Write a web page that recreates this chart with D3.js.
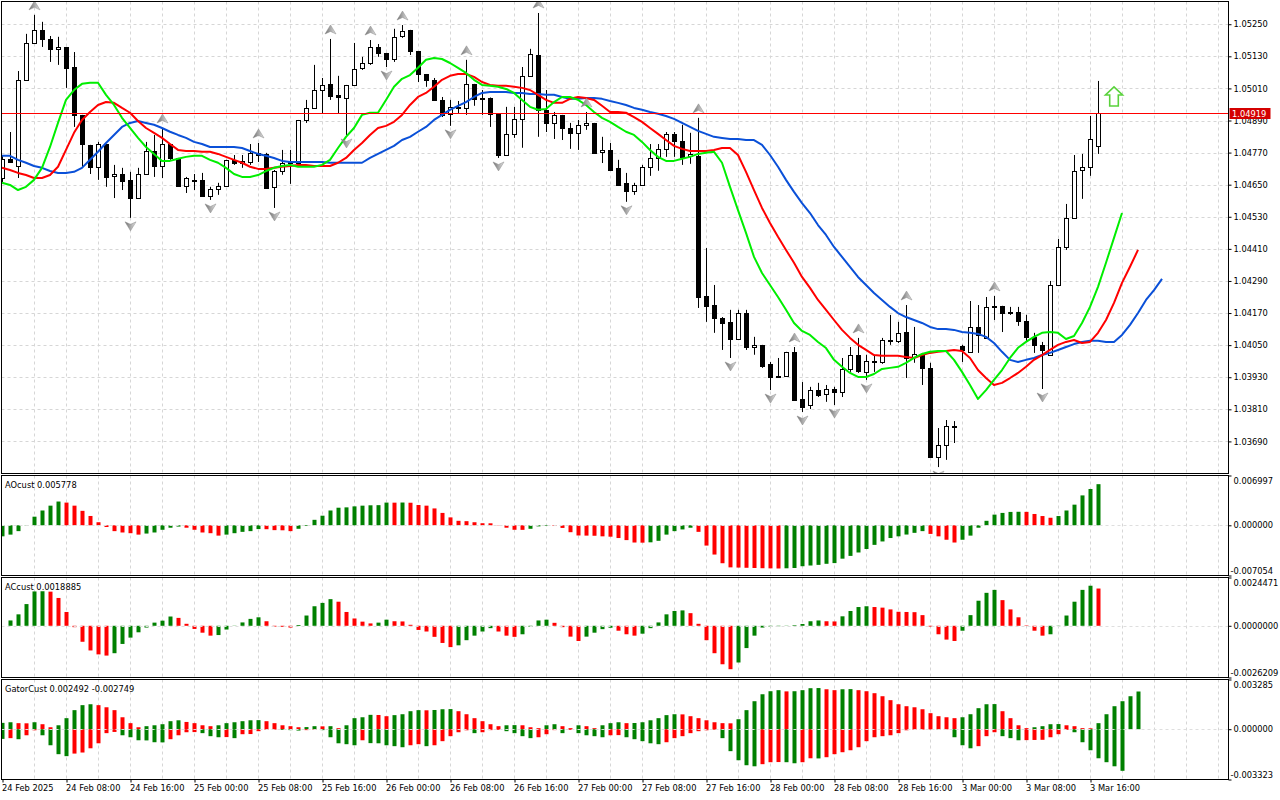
<!DOCTYPE html>
<html>
<head>
<meta charset="utf-8">
<script src="https://cdn.jsdelivr.net/npm/d3@7"></script>
<style>
  body { margin: 0; background: #fff; }
  svg text { font-family: "DejaVu Sans", Verdana, sans-serif; font-size: 8.3px; fill: #000; }
</style>
</head>
<body>
<svg id="chart" width="1280" height="800"></svg>
<script>
// time axis labels, one every 8 hourly bars
const timeLabels = ['24 Feb 2025', '24 Feb 08:00', '24 Feb 16:00', '25 Feb 00:00', '25 Feb 08:00', '25 Feb 16:00',
  '26 Feb 00:00', '26 Feb 08:00', '26 Feb 16:00', '27 Feb 00:00', '27 Feb 08:00', '27 Feb 16:00',
  '28 Feb 00:00', '28 Feb 08:00', '28 Feb 16:00', '3 Mar 00:00', '3 Mar 08:00', '3 Mar 16:00'];

const priceTicks = [1.05250, 1.05130, 1.05010, 1.04890, 1.04770, 1.04650, 1.04530, 1.04410,
  1.04290, 1.04170, 1.04050, 1.03930, 1.03810, 1.03690];
const priceMin = 1.03570;
const priceMax = 1.05335;
const lastPrice = 1.04919;

const opens = [
  1.04675, 1.04746, 1.04720, 1.05042, 1.05180, 1.05229, 1.05195, 1.05158, 1.05165, 1.05090,
  1.04911, 1.04799, 1.04717, 1.04802, 1.04683, 1.04690, 1.04668, 1.04600, 1.04690, 1.04776,
  1.04720, 1.04802, 1.04750, 1.04645, 1.04668, 1.04668, 1.04608, 1.04634, 1.04645, 1.04743,
  1.04731, 1.04735, 1.04769, 1.04765, 1.04642, 1.04702, 1.04731, 1.04731, 1.04892, 1.04937,
  1.05004, 1.05027, 1.04986, 1.04976, 1.05023, 1.05087, 1.05105, 1.05165, 1.05143, 1.05120,
  1.05206, 1.05229, 1.05150, 1.05064, 1.05042, 1.04967, 1.04915, 1.04941, 1.04937, 1.05027,
  1.04971, 1.04976, 1.04915, 1.04761, 1.04840, 1.04896, 1.05057, 1.05135, 1.04930, 1.04881,
  1.04911, 1.04862, 1.04844, 1.04874, 1.04881, 1.04773, 1.04780, 1.04713, 1.04657, 1.04627,
  1.04649, 1.04717, 1.04750, 1.04784, 1.04840, 1.04814, 1.04758, 1.04758, 1.04234, 1.04200,
  1.04152, 1.04137, 1.04073, 1.04170, 1.04043, 1.04051, 1.03980, 1.03931, 1.03935, 1.04025,
  1.03849, 1.03826, 1.03882, 1.03867, 1.03886, 1.03875, 1.03961, 1.04014, 1.03950, 1.03991,
  1.03987, 1.04069, 1.04066, 1.04099, 1.04006, 1.04017, 1.03965, 1.03632, 1.03677, 1.03744,
  1.04047, 1.04025, 1.04118, 1.04077, 1.04197, 1.04197, 1.04170, 1.04174, 1.04140, 1.04081,
  1.04051, 1.04014, 1.04275, 1.04417, 1.04526, 1.04705, 1.04717, 1.04795];
const highs = [
  1.04761, 1.04847, 1.05075, 1.05214, 1.05285, 1.05259, 1.05206, 1.05203, 1.05165, 1.05146,
  1.04911, 1.04799, 1.04810, 1.04802, 1.04724, 1.04713, 1.04698, 1.04713, 1.04810, 1.04836,
  1.04862, 1.04802, 1.04750, 1.04679, 1.04690, 1.04694, 1.04642, 1.04657, 1.04743, 1.04761,
  1.04761, 1.04802, 1.04806, 1.04769, 1.04705, 1.04780, 1.04780, 1.04892, 1.04967, 1.05098,
  1.05049, 1.05195, 1.05057, 1.05023, 1.05180, 1.05128, 1.05191, 1.05176, 1.05143, 1.05233,
  1.05247, 1.05229, 1.05150, 1.05064, 1.05049, 1.04978, 1.04967, 1.04963, 1.05117, 1.05027,
  1.05004, 1.04976, 1.04915, 1.04941, 1.04941, 1.05090, 1.05158, 1.05292, 1.05004, 1.04922,
  1.04911, 1.04881, 1.04892, 1.04922, 1.04881, 1.04829, 1.04806, 1.04743, 1.04694, 1.04657,
  1.04724, 1.04802, 1.04802, 1.04847, 1.04847, 1.04874, 1.04844, 1.04900, 1.04413, 1.04275,
  1.04155, 1.04182, 1.04182, 1.04182, 1.04081, 1.04051, 1.03987, 1.04002, 1.04025, 1.04043,
  1.03912, 1.03894, 1.03909, 1.03901, 1.03894, 1.04002, 1.04043, 1.04077, 1.04014, 1.04014,
  1.04077, 1.04163, 1.04137, 1.04200, 1.04118, 1.04021, 1.03984, 1.03740, 1.03770, 1.03766,
  1.04051, 1.04215, 1.04200, 1.04230, 1.04234, 1.04197, 1.04193, 1.04193, 1.04163, 1.04096,
  1.04062, 1.04290, 1.04447, 1.04578, 1.04761, 1.04765, 1.04907, 1.05038];
const lows = [
  1.04660, 1.04735, 1.04675, 1.05042, 1.05180, 1.05165, 1.05109, 1.05098, 1.05012, 1.04866,
  1.04713, 1.04690, 1.04668, 1.04642, 1.04600, 1.04630, 1.04526, 1.04600, 1.04690, 1.04679,
  1.04675, 1.04743, 1.04645, 1.04619, 1.04630, 1.04604, 1.04593, 1.04612, 1.04645, 1.04724,
  1.04713, 1.04724, 1.04735, 1.04638, 1.04563, 1.04687, 1.04653, 1.04731, 1.04881, 1.04937,
  1.04918, 1.04967, 1.04918, 1.04836, 1.05023, 1.05079, 1.05098, 1.05128, 1.05090, 1.05109,
  1.05199, 1.05135, 1.05034, 1.05016, 1.04967, 1.04903, 1.04870, 1.04918, 1.04911, 1.04945,
  1.04911, 1.04866, 1.04750, 1.04761, 1.04825, 1.04788, 1.05057, 1.04829, 1.04847, 1.04821,
  1.04817, 1.04784, 1.04780, 1.04855, 1.04769, 1.04731, 1.04705, 1.04645, 1.04586, 1.04612,
  1.04645, 1.04683, 1.04702, 1.04754, 1.04754, 1.04724, 1.04728, 1.04189, 1.04137, 1.04096,
  1.04032, 1.04002, 1.04073, 1.04032, 1.04014, 1.03965, 1.03882, 1.03927, 1.03935, 1.03843,
  1.03800, 1.03811, 1.03856, 1.03838, 1.03826, 1.03856, 1.03950, 1.03946, 1.03920, 1.03950,
  1.03980, 1.04051, 1.04058, 1.03927, 1.03984, 1.03901, 1.03628, 1.03594, 1.03621, 1.03684,
  1.03987, 1.04021, 1.04021, 1.04077, 1.04144, 1.04099, 1.04163, 1.04122, 1.04066, 1.04021,
  1.03886, 1.04014, 1.04275, 1.04406, 1.04526, 1.04597, 1.04683, 1.04765];
const closes = [
  1.04746, 1.04735, 1.05042, 1.05180, 1.05229, 1.05195, 1.05158, 1.05165, 1.05087, 1.04911,
  1.04802, 1.04717, 1.04802, 1.04679, 1.04690, 1.04664, 1.04600, 1.04690, 1.04776, 1.04720,
  1.04802, 1.04750, 1.04645, 1.04675, 1.04669, 1.04608, 1.04634, 1.04645, 1.04743, 1.04731,
  1.04739, 1.04769, 1.04761, 1.04638, 1.04702, 1.04731, 1.04733, 1.04892, 1.04937, 1.05004,
  1.05023, 1.04982, 1.04978, 1.05023, 1.05083, 1.05105, 1.05165, 1.05143, 1.05120, 1.05203,
  1.05225, 1.05150, 1.05064, 1.05042, 1.04967, 1.04911, 1.04941, 1.04937, 1.05027, 1.04971,
  1.04976, 1.04915, 1.04761, 1.04840, 1.04896, 1.05057, 1.05139, 1.04930, 1.04881, 1.04911,
  1.04862, 1.04844, 1.04874, 1.04881, 1.04769, 1.04780, 1.04705, 1.04649, 1.04627, 1.04649,
  1.04717, 1.04750, 1.04784, 1.04840, 1.04814, 1.04754, 1.04765, 1.04230, 1.04197, 1.04152,
  1.04133, 1.04073, 1.04170, 1.04043, 1.04051, 1.03972, 1.03931, 1.03935, 1.04025, 1.03845,
  1.03819, 1.03882, 1.03864, 1.03886, 1.03875, 1.03961, 1.04014, 1.03953, 1.03991, 1.03987,
  1.04069, 1.04066, 1.04096, 1.04002, 1.04017, 1.03965, 1.03632, 1.03677, 1.03748, 1.03748,
  1.04032, 1.04118, 1.04088, 1.04193, 1.04195, 1.04170, 1.04174, 1.04140, 1.04081, 1.04051,
  1.04032, 1.04275, 1.04417, 1.04526, 1.04702, 1.04717, 1.04821, 1.04919];

// alligator lines, already shifted forward (lips 3, teeth 5, jaw 8 bars)
const lips = [
  1.04657, 1.04649, 1.04630, 1.04642, 1.04668, 1.04713, 1.04791, 1.04881, 1.04967, 1.05004,
  1.05027, 1.05031, 1.05031, 1.04986, 1.04948, 1.04900, 1.04862, 1.04825, 1.04791, 1.04765,
  1.04739, 1.04739, 1.04747, 1.04754, 1.04758, 1.04758, 1.04743, 1.04732, 1.04713, 1.04690,
  1.04679, 1.04679, 1.04686, 1.04701, 1.04713, 1.04720, 1.04724, 1.04717, 1.04717, 1.04717,
  1.04724, 1.04743, 1.04787, 1.04829, 1.04862, 1.04911, 1.04919, 1.04919, 1.04967, 1.05016,
  1.05046, 1.05060, 1.05087, 1.05117, 1.05124, 1.05120, 1.05105, 1.05087, 1.05068, 1.05042,
  1.05023, 1.05020, 1.05016, 1.05008, 1.04993, 1.04967, 1.04941, 1.04930, 1.04933, 1.04959,
  1.04978, 1.04978, 1.04967, 1.04948, 1.04922, 1.04900, 1.04885, 1.04866, 1.04848, 1.04836,
  1.04810, 1.04780, 1.04754, 1.04739, 1.04739, 1.04747, 1.04754, 1.04765, 1.04769, 1.04773,
  1.04732, 1.04642, 1.04555, 1.04470, 1.04380, 1.04320, 1.04275, 1.04230, 1.04182, 1.04133,
  1.04103, 1.04088, 1.04062, 1.04039, 1.03995, 1.03969, 1.03946, 1.03931, 1.03931, 1.03942,
  1.03961, 1.03965, 1.03969, 1.03984, 1.04002, 1.04017, 1.04025, 1.04028, 1.04028, 1.03995,
  1.03950, 1.03901, 1.03849, 1.03882, 1.03920, 1.03957, 1.04002, 1.04040, 1.04062, 1.04081,
  1.04096, 1.04099, 1.04096, 1.04073, 1.04084, 1.04133, 1.04193, 1.04268, 1.04358, 1.04451,
  1.04544];
const teeth = [
  1.04713, 1.04705, 1.04694, 1.04686, 1.04675, 1.04675, 1.04686, 1.04717, 1.04780, 1.04844,
  1.04892, 1.04922, 1.04948, 1.04959, 1.04956, 1.04937, 1.04919, 1.04888, 1.04862, 1.04844,
  1.04825, 1.04802, 1.04780, 1.04776, 1.04776, 1.04773, 1.04773, 1.04765, 1.04754, 1.04743,
  1.04732, 1.04717, 1.04709, 1.04709, 1.04713, 1.04717, 1.04720, 1.04724, 1.04724, 1.04720,
  1.04720, 1.04720, 1.04732, 1.04750, 1.04780, 1.04806, 1.04836, 1.04862, 1.04870, 1.04885,
  1.04911, 1.04948, 1.04978, 1.04993, 1.05016, 1.05042, 1.05057, 1.05064, 1.05064, 1.05053,
  1.05034, 1.05023, 1.05020, 1.05020, 1.05016, 1.05012, 1.05004, 1.04986, 1.04967, 1.04956,
  1.04956, 1.04971, 1.04978, 1.04974, 1.04967, 1.04945, 1.04922, 1.04922, 1.04919, 1.04903,
  1.04885, 1.04862, 1.04840, 1.04817, 1.04795, 1.04784, 1.04776, 1.04776, 1.04776, 1.04780,
  1.04787, 1.04787, 1.04761, 1.04698, 1.04630, 1.04563, 1.04507, 1.04455, 1.04406, 1.04358,
  1.04305, 1.04264, 1.04219, 1.04182, 1.04144, 1.04107, 1.04077, 1.04051, 1.04032, 1.04013,
  1.04010, 1.04010, 1.04010, 1.04006, 1.04002, 1.04013, 1.04021, 1.04025, 1.04028, 1.04032,
  1.04028, 1.04002, 1.03957, 1.03927, 1.03901, 1.03909, 1.03927, 1.03946, 1.03969, 1.03995,
  1.04013, 1.04032, 1.04051, 1.04062, 1.04069, 1.04058, 1.04062, 1.04096, 1.04144, 1.04208,
  1.04283, 1.04343, 1.04406];
const jaw = [
  1.04758, 1.04758, 1.04743, 1.04732, 1.04720, 1.04713, 1.04701, 1.04694, 1.04694, 1.04698,
  1.04713, 1.04743, 1.04773, 1.04806, 1.04836, 1.04866, 1.04881, 1.04888, 1.04881, 1.04874,
  1.04862, 1.04848, 1.04836, 1.04825, 1.04810, 1.04802, 1.04791, 1.04791, 1.04791, 1.04791,
  1.04787, 1.04776, 1.04765, 1.04758, 1.04750, 1.04739, 1.04735, 1.04735, 1.04735, 1.04735,
  1.04735, 1.04732, 1.04732, 1.04732, 1.04732, 1.04732, 1.04750, 1.04765, 1.04780, 1.04795,
  1.04817, 1.04829, 1.04848, 1.04866, 1.04892, 1.04911, 1.04930, 1.04945, 1.04959, 1.04978,
  1.04993, 1.04997, 1.04997, 1.04997, 1.04993, 1.04993, 1.04989, 1.04989, 1.04986, 1.04986,
  1.04978, 1.04971, 1.04971, 1.04974, 1.04974, 1.04971, 1.04963, 1.04956, 1.04948, 1.04937,
  1.04930, 1.04922, 1.04915, 1.04907, 1.04896, 1.04881, 1.04866, 1.04851, 1.04840, 1.04829,
  1.04825, 1.04821, 1.04821, 1.04817, 1.04817, 1.04799, 1.04761, 1.04717, 1.04668, 1.04623,
  1.04581, 1.04544, 1.04499, 1.04462, 1.04417, 1.04380, 1.04343, 1.04305, 1.04275, 1.04245,
  1.04219, 1.04193, 1.04170, 1.04155, 1.04144, 1.04133, 1.04118, 1.04110, 1.04110, 1.04107,
  1.04099, 1.04096, 1.04092, 1.04081, 1.04058, 1.04025, 1.03995, 1.03987, 1.03995, 1.04002,
  1.04013, 1.04021, 1.04032, 1.04043, 1.04054, 1.04062, 1.04066, 1.04066, 1.04062, 1.04062,
  1.04088, 1.04126, 1.04170, 1.04219, 1.04256, 1.04298];

// bars that carry a fractal arrow
const fractalUp = [4, 20, 32, 41, 46, 50, 58, 67, 73, 87, 99, 107, 113, 124];
const fractalDown = [16, 26, 34, 43, 48, 56, 62, 78, 91, 96, 100, 104, 108, 117, 130];
const signalBar = 139;
const signalPrice = 1.04980;

const aoValues = [
  -0.00155, -0.00131, -0.00082, 0.00004, 0.00121, 0.00208, 0.00276, 0.00334, 0.00319, 0.00276,
  0.00203, 0.00131, 0.00043, -0.00024, -0.00082, -0.00101, -0.00111, -0.00131, -0.00116, -0.00101,
  -0.00063, -0.00034, -0.00018, -0.00034, -0.00063, -0.00101, -0.00111, -0.00145, -0.00131, -0.00111,
  -0.00092, -0.00082, -0.00053, -0.00055, -0.00068, -0.00070, -0.00082, -0.00049, -0.00010, 0.00077,
  0.00135, 0.00208, 0.00247, 0.00252, 0.00266, 0.00276, 0.00281, 0.00283, 0.00319, 0.00318,
  0.00320, 0.00317, 0.00285, 0.00276, 0.00237, 0.00174, 0.00111, 0.00063, 0.00058, 0.00043,
  0.00029, 0.00028, 0.00003, -0.00034, -0.00063, -0.00064, -0.00049, -0.00015, -0.00008, -0.00010,
  -0.00037, -0.00097, -0.00143, -0.00145, -0.00147, -0.00155, -0.00160, -0.00179, -0.00208, -0.00242,
  -0.00244, -0.00239, -0.00218, -0.00131, -0.00082, -0.00058, -0.00034, -0.00092, -0.00285, -0.00411,
  -0.00533, -0.00591, -0.00594, -0.00597, -0.00600, -0.00603, -0.00605, -0.00607, -0.00604, -0.00600,
  -0.00575, -0.00565, -0.00556, -0.00541, -0.00531, -0.00469, -0.00430, -0.00382, -0.00333, -0.00275,
  -0.00227, -0.00179, -0.00155, -0.00130, -0.00106, -0.00082, -0.00121, -0.00155, -0.00203, -0.00242,
  -0.00203, -0.00145, -0.00034, 0.00063, 0.00150, 0.00174, 0.00188, 0.00190, 0.00189, 0.00159,
  0.00130, 0.00106, 0.00130, 0.00208, 0.00290, 0.00420, 0.00510, 0.005778];
const acValues = [
  null, 0.00027, 0.00058, 0.00110, 0.00174, 0.00175, 0.00173, 0.00141, 0.00070, -0.00007,
  -0.00081, -0.00125, -0.00145, -0.00151, -0.00139, -0.00092, -0.00060, -0.00033, -0.00009, 0.00016,
  0.00026, 0.00047, 0.00040, 0.00010, -0.00016, -0.00035, -0.00050, -0.00047, -0.00019, 0.00001,
  0.00017, 0.00035, 0.00043, 0.00023, -0.00004, -0.00005, -0.00009, 0.00004, 0.00052, 0.00099,
  0.00116, 0.00135, 0.00122, 0.00070, 0.00037, 0.00021, 0.00012, 0.00016, 0.00031, 0.00023,
  0.00022, 0.00005, -0.00021, -0.00029, -0.00056, -0.00087, -0.00108, -0.00099, -0.00073, -0.00050,
  -0.00029, -0.00012, -0.00029, -0.00050, -0.00056, -0.00043, -0.00005, 0.00027, 0.00031, 0.00015,
  -0.00007, -0.00055, -0.00077, -0.00055, -0.00035, -0.00017, -0.00010, -0.00025, -0.00043, -0.00050,
  -0.00040, -0.00012, 0.00017, 0.00058, 0.00075, 0.00078, 0.00064, 0.00010, -0.00073, -0.00139,
  -0.00195, -0.00220, -0.00186, -0.00113, -0.00050, -0.00009, -0.00004, -0.00002, 0.00001, 0.00003,
  0.00009, 0.00023, 0.00027, 0.00023, 0.00022, 0.00048, 0.00075, 0.00095, 0.00099, 0.00095,
  0.00092, 0.00083, 0.00071, 0.00070, 0.00069, 0.00054, -0.00004, -0.00043, -0.00070, -0.00077,
  -0.00025, 0.00054, 0.00127, 0.00167, 0.00182, 0.00130, 0.00083, 0.00043, 0.00002, -0.00025,
  -0.00050, -0.00043, 0.00001, 0.00052, 0.00122, 0.00182, 0.00203, 0.0018885];
const gatorUpper = [
  0.00042, 0.00046, 0.00040, 0.00039, 0.00046, 0.00033, 0.00013, 0.00026, 0.00073, 0.00126,
  0.00159, 0.00165, 0.00159, 0.00145, 0.00126, 0.00079, 0.00040, 0.00013, 0.00020, 0.00026,
  0.00033, 0.00053, 0.00059, 0.00048, 0.00040, 0.00026, 0.00020, 0.00026, 0.00040, 0.00046,
  0.00053, 0.00059, 0.00060, 0.00053, 0.00040, 0.00026, 0.00020, 0.00013, 0.00014, 0.00020,
  0.00019, 0.00020, 0.00007, 0.00026, 0.00073, 0.00079, 0.00095, 0.00094, 0.00086, 0.00093,
  0.00099, 0.00119, 0.00126, 0.00125, 0.00127, 0.00132, 0.00133, 0.00119, 0.00099, 0.00073,
  0.00053, 0.00033, 0.00020, 0.00026, 0.00027, 0.00026, 0.00013, 0.00007, 0.00026, 0.00033,
  0.00020, 0.00007, 0.00026, 0.00020, 0.00007, 0.00026, 0.00040, 0.00046, 0.00040, 0.00041,
  0.00046, 0.00059, 0.00073, 0.00093, 0.00099, 0.00098, 0.00086, 0.00073, 0.00059, 0.00046,
  0.00040, 0.00039, 0.00066, 0.00126, 0.00185, 0.00231, 0.00251, 0.00258, 0.00250, 0.00251,
  0.00258, 0.00271, 0.00272, 0.00264, 0.00258, 0.00264, 0.00265, 0.00258, 0.00251, 0.00238,
  0.00218, 0.00192, 0.00165, 0.00152, 0.00145, 0.00132, 0.00106, 0.00086, 0.00079, 0.00073,
  0.00079, 0.00099, 0.00139, 0.00165, 0.00166, 0.00119, 0.00073, 0.00026, 0.00007, 0.00013,
  0.00020, 0.00033, 0.00034, 0.00026, 0.00020, 0.00007, 0.00006, 0.00040, 0.00099, 0.00152,
  0.00185, 0.00218, 0.002492];
const gatorLower = [
  -0.00064, -0.00059, -0.00066, -0.00040, -0.00007, -0.00040, -0.00106, -0.00165, -0.00178, -0.00161,
  -0.00154, -0.00126, -0.00093, -0.00026, -0.00018, -0.00040, -0.00053, -0.00073, -0.00074, -0.00086,
  -0.00087, -0.00066, -0.00040, -0.00020, -0.00019, -0.00026, -0.00046, -0.00053, -0.00052, -0.00059,
  -0.00033, -0.00032, -0.00013, -0.00004, -0.00003, -0.00005, -0.00006, -0.00009, -0.00006, -0.00004,
  -0.00006, -0.00053, -0.00093, -0.00099, -0.00106, -0.00073, -0.00092, -0.00093, -0.00106, -0.00112,
  -0.00119, -0.00106, -0.00099, -0.00112, -0.00106, -0.00079, -0.00046, -0.00020, -0.00007, -0.00026,
  -0.00020, -0.00006, -0.00005, -0.00013, -0.00026, -0.00046, -0.00059, -0.00053, -0.00033, -0.00006,
  -0.00026, -0.00005, -0.00026, -0.00040, -0.00046, -0.00053, -0.00040, -0.00039, -0.00053, -0.00066,
  -0.00079, -0.00093, -0.00099, -0.00086, -0.00059, -0.00046, -0.00026, -0.00013, -0.00007, -0.00004,
  -0.00059, -0.00145, -0.00205, -0.00238, -0.00245, -0.00231, -0.00218, -0.00217, -0.00218, -0.00225,
  -0.00218, -0.00192, -0.00193, -0.00185, -0.00165, -0.00152, -0.00139, -0.00119, -0.00079, -0.00053,
  -0.00046, -0.00040, -0.00026, -0.00007, -0.00004, -0.00003, -0.00002, -0.00002, -0.00001, -0.00053,
  -0.00106, -0.00126, -0.00112, -0.00046, -0.00020, -0.00046, -0.00059, -0.00073, -0.00072, -0.00071,
  -0.00070, -0.00053, -0.00033, -0.00005, -0.00020, -0.00086, -0.00139, -0.00192, -0.00218, -0.00245,
  -0.002749];

const aoRange = [-0.007054, 0.006997];
const acRange = [-0.0026209, 0.0024471];
const gatorRange = [-0.003323, 0.003285];

const GREEN = '#008000';
const RED = '#ff0000';
const GRID = '#d6d6d6';

const left = 1.5;
const right = 1228.5;
const mainBox = { top: 1.5, bottom: 473.5 };
const aoBox = { top: 475.5, bottom: 575.5 };
const acBox = { top: 577.5, bottom: 677.5 };
const gatorBox = { top: 679.5, bottom: 779.5 };

const svg = d3.select('#chart');
svg.append('rect').attr('width', 1280).attr('height', 800).attr('fill', '#fff');

// one bar every 8 px
const x = d3.scaleLinear().domain([0, 1]).range([2, 10]);
const priceY = d3.scaleLinear().domain([priceMin, priceMax]).range([mainBox.bottom, mainBox.top]);
const aoY = d3.scaleLinear().domain(aoRange).range([aoBox.bottom, aoBox.top]);
const acY = d3.scaleLinear().domain(acRange).range([acBox.bottom, acBox.top]);
const gatorY = d3.scaleLinear().domain(gatorRange).range([gatorBox.bottom, gatorBox.top]);

const defs = svg.append('defs');
[['mainClip', mainBox], ['aoClip', aoBox], ['acClip', acBox], ['gatorClip', gatorBox]].forEach(([id, b]) => {
  defs.append('clipPath').attr('id', id)
    .append('rect')
    .attr('x', left).attr('y', b.top)
    .attr('width', right - left).attr('height', b.bottom - b.top);
});
const grad = defs.append('linearGradient').attr('id', 'fracGrad')
  .attr('x1', 0).attr('x2', 1).attr('y1', 0).attr('y2', 0);
grad.append('stop').attr('offset', '0%').attr('stop-color', '#6f6f6f');
grad.append('stop').attr('offset', '50%').attr('stop-color', '#a9a9a9');
grad.append('stop').attr('offset', '100%').attr('stop-color', '#e4e4e4');

// vertical grid every 4 bars
const gridBars = d3.range(4, 160, 4).filter(i => x(i) < right - 1);
function verticalGrid(g, b) {
  g.selectAll('line.vgrid').data(gridBars).join('line')
    .attr('class', 'vgrid')
    .attr('x1', i => Math.round(x(i)) + 0.5).attr('x2', i => Math.round(x(i)) + 0.5)
    .attr('y1', b.top).attr('y2', b.bottom)
    .attr('stroke', GRID).attr('stroke-dasharray', '3,3');
}

// ---------- main panel ----------
const mainG = svg.append('g').attr('clip-path', 'url(#mainClip)');
verticalGrid(mainG, mainBox);
mainG.selectAll('line.hgrid').data(priceTicks).join('line')
  .attr('class', 'hgrid')
  .attr('x1', left).attr('x2', right)
  .attr('y1', d => Math.round(priceY(d)) + 0.5).attr('y2', d => Math.round(priceY(d)) + 0.5)
  .attr('stroke', GRID).attr('stroke-dasharray', '3,3');

const candles = opens.map((o, i) => ({ i, o, h: highs[i], l: lows[i], c: closes[i] }));
const candleG = mainG.append('g');
candleG.selectAll('line').data(candles).join('line')
  .attr('x1', d => x(d.i) + 0.5).attr('x2', d => x(d.i) + 0.5)
  .attr('y1', d => priceY(d.h)).attr('y2', d => priceY(d.l))
  .attr('stroke', '#000');
candleG.selectAll('rect').data(candles).join('rect')
  .attr('x', d => x(d.i) - 1.5)
  .attr('width', 4)
  .attr('y', d => Math.round(Math.min(priceY(d.o), priceY(d.c))) + 0.5)
  .attr('height', d => Math.max(1, Math.round(Math.abs(priceY(d.o) - priceY(d.c)))))
  .attr('fill', d => (d.c >= d.o ? '#fff' : '#000'))
  .attr('stroke', '#000');

const line = d3.line().x((d, i) => x(i)).y(d => priceY(d));
[[jaw, '#0a50d8'], [teeth, '#ff0000'], [lips, '#00ee00']].forEach(([series, color]) => {
  mainG.append('path').datum(series)
    .attr('d', line)
    .attr('fill', 'none')
    .attr('stroke', color)
    .attr('stroke-width', 2)
    .attr('stroke-linejoin', 'round');
});

// current price line, as a 1px filled strip
mainG.append('rect')
  .attr('x', left).attr('width', right - left)
  .attr('y', Math.round(priceY(lastPrice)))
  .attr('height', 1)
  .attr('fill', '#ff0000');

// fractal arrows
mainG.selectAll('path.fup').data(fractalUp).join('path')
  .attr('class', 'fup')
  .attr('d', 'M0,-5 L5.5,4 L0,1.5 L-5.5,4 Z')
  .attr('transform', i => `translate(${x(i) + 0.5},${priceY(highs[i]) - 9})`)
  .attr('fill', 'url(#fracGrad)').attr('stroke', '#8c8c8c').attr('stroke-width', 0.5);
mainG.selectAll('path.fdown').data(fractalDown).join('path')
  .attr('class', 'fdown')
  .attr('d', 'M0,5 L5.5,-4 L0,-1.5 L-5.5,-4 Z')
  .attr('transform', i => `translate(${x(i) + 0.5},${priceY(lows[i]) + 8})`)
  .attr('fill', 'url(#fracGrad)').attr('stroke', '#8c8c8c').attr('stroke-width', 0.5);

// signal arrow
mainG.append('path')
  .attr('d', 'M0,-9.5 L8.5,-1.5 L4.3,-1.5 L4.3,9.5 L-4.3,9.5 L-4.3,-1.5 L-8.5,-1.5 Z')
  .attr('transform', `translate(${x(signalBar)},${priceY(signalPrice)})`)
  .attr('fill', '#fff').attr('stroke', '#5ad23c').attr('stroke-width', 1.6);

// ---------- histogram panels ----------
function histogram(box, clipId, yScale, series, colorOf) {
  const g = svg.append('g').attr('clip-path', `url(#${clipId})`);
  verticalGrid(g, box);
  const bars = series.map((v, i) => ({ v, i })).filter(d => d.v !== null);
  g.selectAll('rect').data(bars).join('rect')
    .attr('x', d => x(d.i) - 1.5)
    .attr('width', 4)
    .attr('y', d => Math.min(yScale(d.v), yScale(0)))
    .attr('height', d => Math.abs(yScale(d.v) - yScale(0)))
    .attr('fill', d => colorOf(d, series));
  return g;
}
const riseColor = (d, s) => (d.i === 0 || s[d.i - 1] === null || d.v > s[d.i - 1] ? GREEN : RED);
const widenColor = (d, s) => (d.i === 0 || Math.abs(d.v) >= Math.abs(s[d.i - 1]) ? GREEN : RED);

const aoG = histogram(aoBox, 'aoClip', aoY, aoValues, riseColor);
const acG = histogram(acBox, 'acClip', acY, acValues, riseColor);
const gatorG = histogram(gatorBox, 'gatorClip', gatorY, gatorUpper, widenColor);
gatorG.append('g').selectAll('rect').data(gatorLower.map((v, i) => ({ v, i }))).join('rect')
  .attr('x', d => x(d.i) - 1.5)
  .attr('width', 4)
  .attr('y', gatorY(0))
  .attr('height', d => gatorY(d.v) - gatorY(0))
  .attr('fill', d => widenColor(d, gatorLower));

[[aoG, aoY], [acG, acY], [gatorG, gatorY]].forEach(([g, yScale]) => {
  g.append('line')
    .attr('x1', left).attr('x2', right)
    .attr('y1', Math.round(yScale(0)) + 0.5).attr('y2', Math.round(yScale(0)) + 0.5)
    .attr('stroke', '#dedede').attr('stroke-dasharray', '3,3');
});

// ---------- frames ----------
[mainBox, aoBox, acBox, gatorBox].forEach(b => {
  svg.append('rect')
    .attr('x', left).attr('y', b.top)
    .attr('width', right - left).attr('height', b.bottom - b.top)
    .attr('fill', 'none').attr('stroke', '#000');
});

// ---------- axes ----------
const priceAxis = svg.append('g')
  .attr('transform', `translate(${right},0)`)
  .call(d3.axisRight(priceY).tickValues(priceTicks).tickSize(3).tickPadding(2)
    .tickFormat(d => d.toFixed(5)));
priceAxis.select('.domain').remove();

function sideAxis(yScale, range, digits) {
  const ticks = [range[1], 0, range[0]];
  const g = svg.append('g')
    .attr('transform', `translate(${right},0)`)
    .call(d3.axisRight(yScale).tickValues(ticks).tickSize(3).tickPadding(2)
      .tickFormat(d => d.toFixed(digits)));
  g.select('.domain').remove();
  g.selectAll('.tick text')
    .attr('x', d => (d < 0 ? 2 : 5))
    .attr('dy', d => (d === range[1] ? '0.95em' : d === range[0] ? '-0.25em' : '0.32em'));
}
sideAxis(aoY, aoRange, 6);
sideAxis(acY, acRange, 7);
sideAxis(gatorY, gatorRange, 6);

const timeAxis = svg.append('g')
  .attr('transform', `translate(0,${gatorBox.bottom})`)
  .call(d3.axisBottom(x).tickValues(d3.range(0, timeLabels.length * 8, 8))
    .tickSize(3).tickPadding(3)
    .tickFormat((d, i) => timeLabels[i]));
timeAxis.select('.domain').remove();
timeAxis.selectAll('.tick line').attr('transform', 'translate(0.5,0)');
timeAxis.selectAll('.tick text').attr('text-anchor', 'start').attr('x', -0.5);

// current price tag
const tagY = Math.round(priceY(lastPrice));
svg.append('rect')
  .attr('x', right + 1).attr('y', tagY - 5)
  .attr('width', 41).attr('height', 11)
  .attr('fill', '#d40000');
svg.append('text')
  .attr('x', right + 3.5).attr('y', tagY + 3.5)
  .style('fill', '#fff')
  .text(lastPrice.toFixed(5));

// indicator titles
svg.append('text').attr('x', 5).attr('y', aoBox.top + 12).text('AOcust 0.005778');
svg.append('text').attr('x', 5).attr('y', acBox.top + 12).text('ACcust 0.0018885');
svg.append('text').attr('x', 5).attr('y', gatorBox.top + 12).text('GatorCust 0.002492 -0.002749');
</script>
</body>
</html>
